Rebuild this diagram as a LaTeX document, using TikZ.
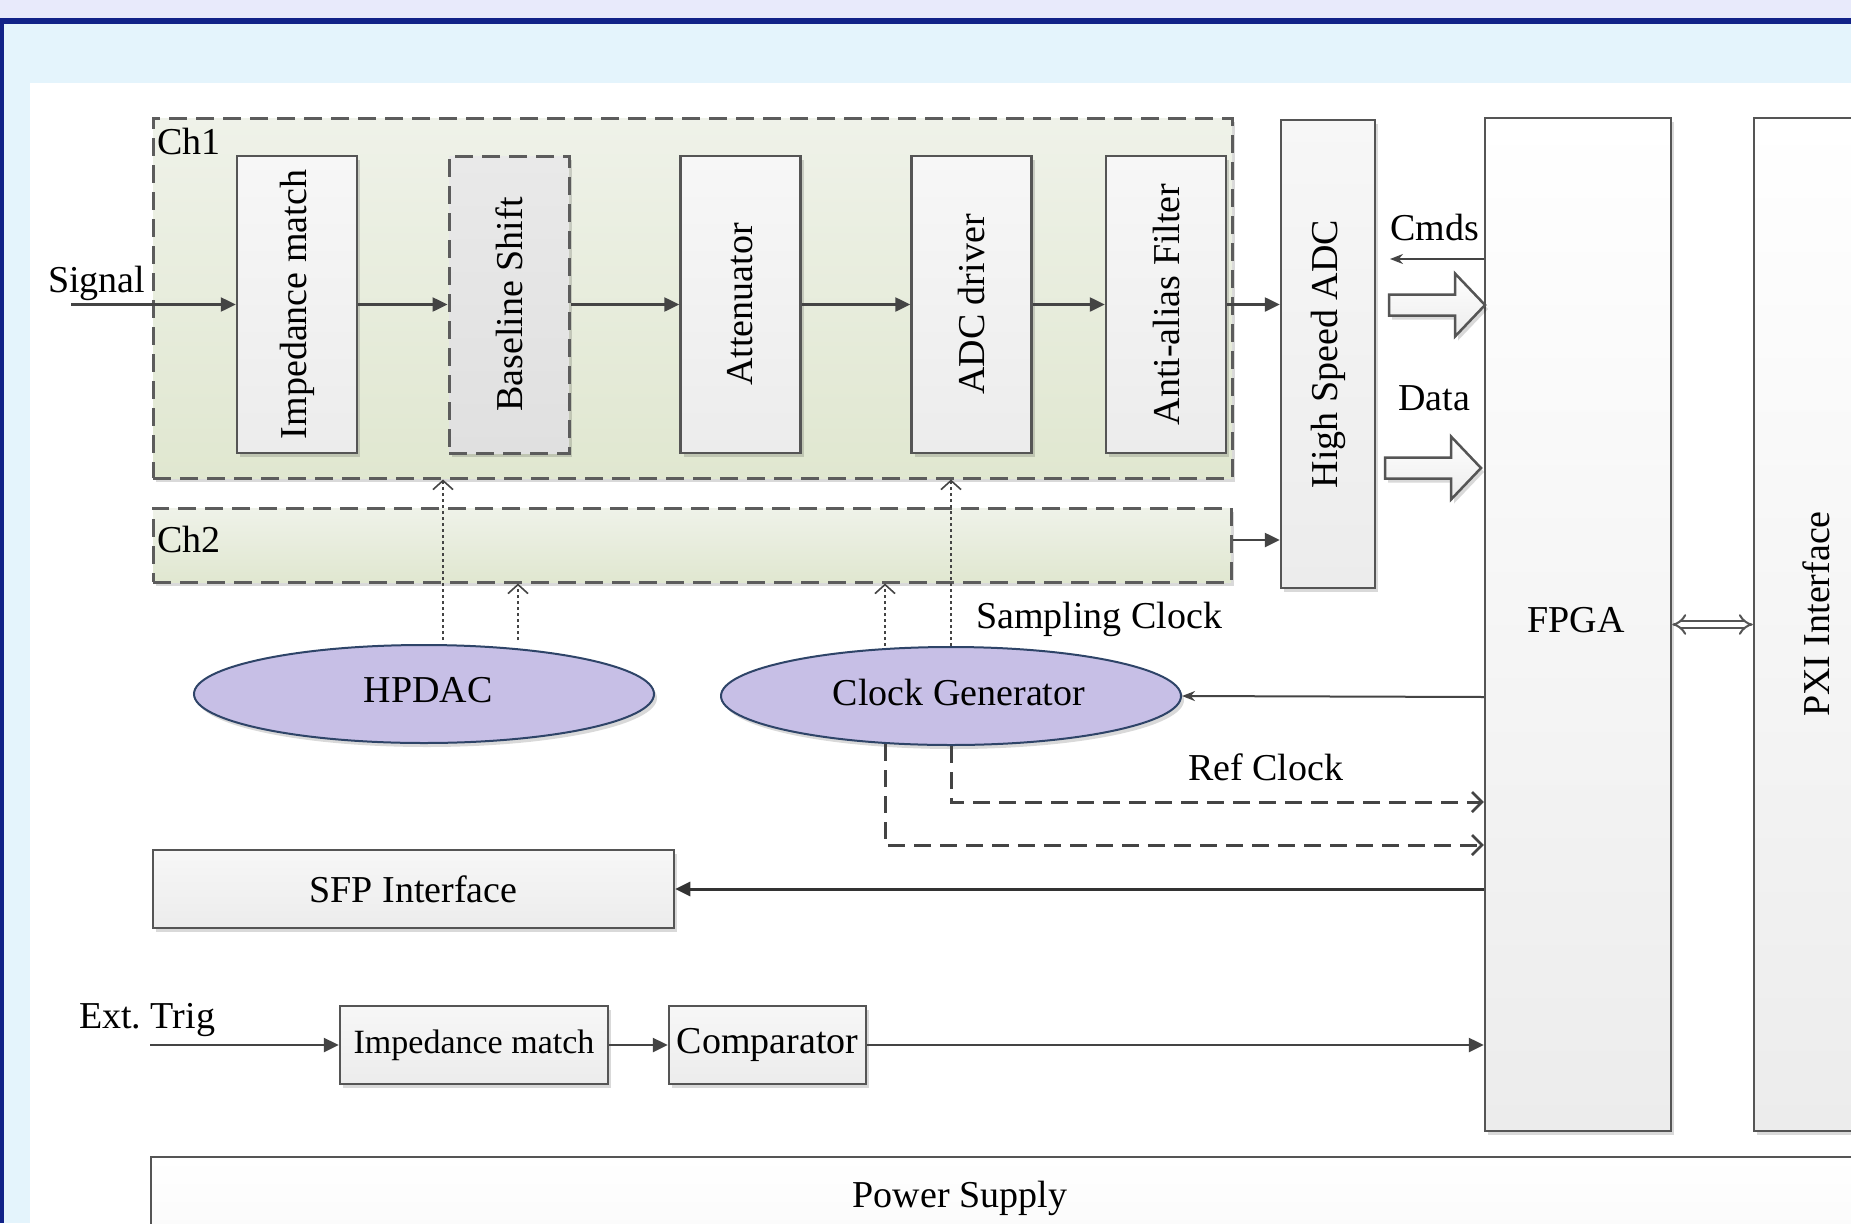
\documentclass[tikz,border=0pt]{standalone}
\usepackage{fontspec}
\setmainfont{Liberation Serif}
\usetikzlibrary{arrows.meta,shapes.geometric,shadows,calc}
\frenchspacing

\definecolor{bandlav}{HTML}{E8EAFB}
\definecolor{framebl}{HTML}{112288}
\definecolor{marginbl}{HTML}{E4F4FC}
\definecolor{boxline}{HTML}{555555}
\definecolor{dashline}{HTML}{5C5C5C}
\definecolor{arrline}{HTML}{444444}
\definecolor{boxtop}{HTML}{F7F7F7}
\definecolor{boxbot}{HTML}{ECECEC}
\definecolor{chtop}{HTML}{EFF2E9}
\definecolor{chbot}{HTML}{E0E7D0}
\definecolor{shifttop}{HTML}{E9E9E9}
\definecolor{shiftbot}{HTML}{E0E0E0}
\definecolor{ellfill}{HTML}{C7BFE6}
\definecolor{ellline}{HTML}{2E4468}

\tikzset{
  softshadow/.style={drop shadow={shadow xshift=3pt, shadow yshift=-4pt, fill=black, opacity=0.15}},
  blockbox/.style={draw=boxline, line width=2.5pt, top color=boxtop, bottom color=boxbot,
    softshadow, inner sep=0pt},
  chgroup/.style={draw=dashline, line width=3pt, dash pattern=on 18pt off 9pt,
    top color=chtop, bottom color=chbot, softshadow, inner sep=0pt},
  shiftbox/.style={blockbox, draw=dashline, line width=3pt, dash pattern=on 18pt off 9pt,
    top color=shifttop, bottom color=shiftbot},
  vtext/.style={rotate=90, inner sep=0pt},
  plainlbl/.style={anchor=base west, inner sep=0pt},
  clkell/.style={ellipse, draw=ellline, line width=2pt, fill=ellfill, softshadow, inner sep=0pt,
    minimum width=460pt, minimum height=98pt},
  sigflow/.style={draw=arrline, line width=2.5pt, -{Triangle[length=15pt,width=14pt]}},
  ctrlflow/.style={draw=arrline, line width=1.6pt, dash pattern=on 3pt off 3pt,
    -{Straight Barb[length=9pt,width=20pt,line width=1.6pt]}},
  refflow/.style={draw=arrline, line width=3pt, dash pattern=on 17pt off 9pt,
    -{Straight Barb[length=10pt,width=20pt,line width=2.5pt]}},
  thinflow/.style={draw=arrline, line width=2pt, -{Stealth[length=13pt,width=10pt]}},
  hollowarrow/.style={draw=boxline, line width=2.5pt, top color=white, bottom color=boxbot,
    softshadow, line join=miter},
  busflow/.style={draw=boxline, line width=2pt, double=white, double distance=5pt, {Implies}-{Implies}},
  pics/widearrow/.style={code={
    \draw[hollowarrow] (-96,10.5) -- (-30,10.5) -- (-30,31.5) -- (0,0) -- (-30,-31.5)
      -- (-30,-10.5) -- (-96,-10.5) -- cycle;}}
}

\begin{document}
\begin{tikzpicture}[x=1pt, y=1pt, font=\fontsize{38}{44}\selectfont]
  \useasboundingbox (0,0) rectangle (1851,-1223);
  \clip (0,0) rectangle (1851,-1223);

  % page background and frame
  \fill[bandlav] (0,0) rectangle (1851,-1223);
  \fill[framebl] (0,-18) rectangle (1851,-24);
  \fill[framebl] (0,-18) rectangle (3.5,-1223);
  \fill[marginbl] (3.5,-24) rectangle (1851,-1223);
  \fill[white] (30,-83) rectangle (1851,-1223);

  % channel groups
  \node[chgroup, minimum width=1079pt, minimum height=360pt] (ch1) at (692.5,-298) {};
  \node[chgroup, minimum width=1078pt, minimum height=74pt] (ch2) at (692,-545) {};
  \node[plainlbl] (ch1lbl) at (157,-154) {Ch1};
  \node[plainlbl] (ch2lbl) at (157,-552) {Ch2};

  % channel 1 signal chain
  \node[blockbox, minimum width=120pt, minimum height=297pt] (imp) at (297,-304.5) {};
  \node[shiftbox, minimum width=120pt, minimum height=297pt] (base) at (509,-304.5) {};
  \node[blockbox, minimum width=120pt, minimum height=297pt] (att) at (740.5,-304.5) {};
  \node[blockbox, minimum width=120pt, minimum height=297pt] (drv) at (971.5,-304.5) {};
  \node[blockbox, minimum width=120pt, minimum height=297pt] (aaf) at (1166,-304.5) {};
  \node[vtext] (impT) at (imp) {Impedance match};
  \node[vtext] (baseT) at (base) {Baseline Shift};
  \node[vtext] (attT) at (att) {Attenuator};
  \node[vtext] (drvT) at (drv) {ADC driver};
  \node[vtext] (aafT) at (aaf) {Anti-alias Filter};

  % converter, FPGA and backplane interface
  \node[blockbox, minimum width=94pt, minimum height=468pt] (adc) at (1328,-354) {};
  \node[vtext] (adcT) at (adc) {High Speed ADC};
  \node[blockbox, top color=white, minimum width=186pt, minimum height=1013pt] (fpga) at (1578,-624.5) {};
  \node (fpgaT) at (1576,-620) {FPGA};
  \node[blockbox, top color=white, minimum width=124pt, minimum height=1013pt] (pxi) at (1816,-624.5) {};
  \node[vtext] (pxiT) at (1816,-614) {PXI Interface};

  % clocking and offset DAC
  \node[clkell] (hpdac) at (424,-694) {};
  \node (hpdacT) at (428,-690) {HPDAC};
  \node[clkell] (clk) at (951,-696) {};
  \node (clkT) at (959,-692) {Clock Generator};

  % lower blocks
  \node[blockbox, minimum width=521pt, minimum height=78pt] (sfp) at (413.5,-889) {SFP Interface};
  \node[blockbox, minimum width=268pt, minimum height=78pt, font=\fontsize{34}{40}\selectfont] (imp2) at (474,-1045) {Impedance match};
  \node[blockbox, minimum width=197pt, minimum height=78pt] (comp) at (767.5,-1045) {Comparator};
  \node[blockbox, top color=white, bottom color=boxtop, minimum width=1749pt, minimum height=143pt] (power) at (1025.5,-1228.5) {};
  \node (powlbl) at (960,-1198) {Power Supply};

  % signal path
  \coordinate (sigin) at (71,-304.5);
  \node[plainlbl] (siglbl) at (48,-292) {Signal};
  \draw[sigflow] (sigin) -- (imp.west);
  \draw[sigflow] (imp) -- (base);
  \draw[sigflow] (base) -- (att);
  \draw[sigflow] (att) -- (drv);
  \draw[sigflow] (drv) -- (aaf);
  \draw[sigflow] (aaf.east) -- (aaf.east -| adc.west);
  \coordinate (ch2out) at ($(ch2.east)+(0,5)$);
  \draw[sigflow] (ch2out) -- (ch2out -| adc.west);

  % ADC to FPGA
  \coordinate (cmdsrc) at ($(fpga.west)+(0,365.5)$);
  \coordinate (cmdend) at (1390,-259);
  \draw[thinflow] (cmdsrc) -- (cmdend);
  \node[plainlbl] (cmdlbl) at (1390,-240) {Cmds};
  \pic (cmdarrow) at (1485,-305) {widearrow};
  \node[plainlbl] (datalbl) at (1398,-410) {Data};
  \pic (dataarrow) at (1481,-468) {widearrow};

  % DAC and clock control lines
  \coordinate (hp1) at ($(hpdac.north)+(19,4)$);
  \coordinate (hp2) at ($(hpdac.north)+(94,4)$);
  \coordinate (ck1) at ($(clk.north)+(-66,0)$);
  \draw[ctrlflow] (hp1) -- (hp1 |- ch1.south);
  \draw[ctrlflow] (hp2) -- (hp2 |- ch2.south);
  \draw[ctrlflow] (ck1) -- (ck1 |- ch2.south);
  \draw[ctrlflow] (clk.north) -- (clk.north |- ch1.south);
  \node[plainlbl] (samplbl) at (976,-628) {Sampling Clock};

  % clock reference from FPGA and reference clocks back
  \coordinate (clksrc) at ($(fpga.west)+(0,-72.5)$);
  \draw[thinflow] (clksrc) -- (clk.east);
  \coordinate (ref1) at ($(fpga.west)+(0,-177.5)$);
  \coordinate (ref2) at ($(fpga.west)+(0,-220.5)$);
  \coordinate (ck4) at ($(clk.south)+(-66,2)$);
  \draw[refflow] (clk.south) |- (ref1);
  \draw[refflow] (ck4) |- (ref2);
  \node[plainlbl] (reflbl) at (1188,-780) {Ref Clock};

  % SFP link
  \draw[sigflow, line width=3pt, draw=black!80] (fpga.west |- sfp.east) -- (sfp.east);

  % external trigger path
  \coordinate (trigin) at (150,-1045);
  \node[plainlbl] (triglbl) at (79,-1028) {Ext. Trig};
  \draw[sigflow] (trigin) -- (imp2);
  \draw[sigflow] (imp2) -- (comp);
  \draw[sigflow] (comp) -- (comp -| fpga.west);

  % FPGA to PXI bus
  \draw[busflow] (fpga.east) -- (pxi.west);
\end{tikzpicture}
\end{document}
